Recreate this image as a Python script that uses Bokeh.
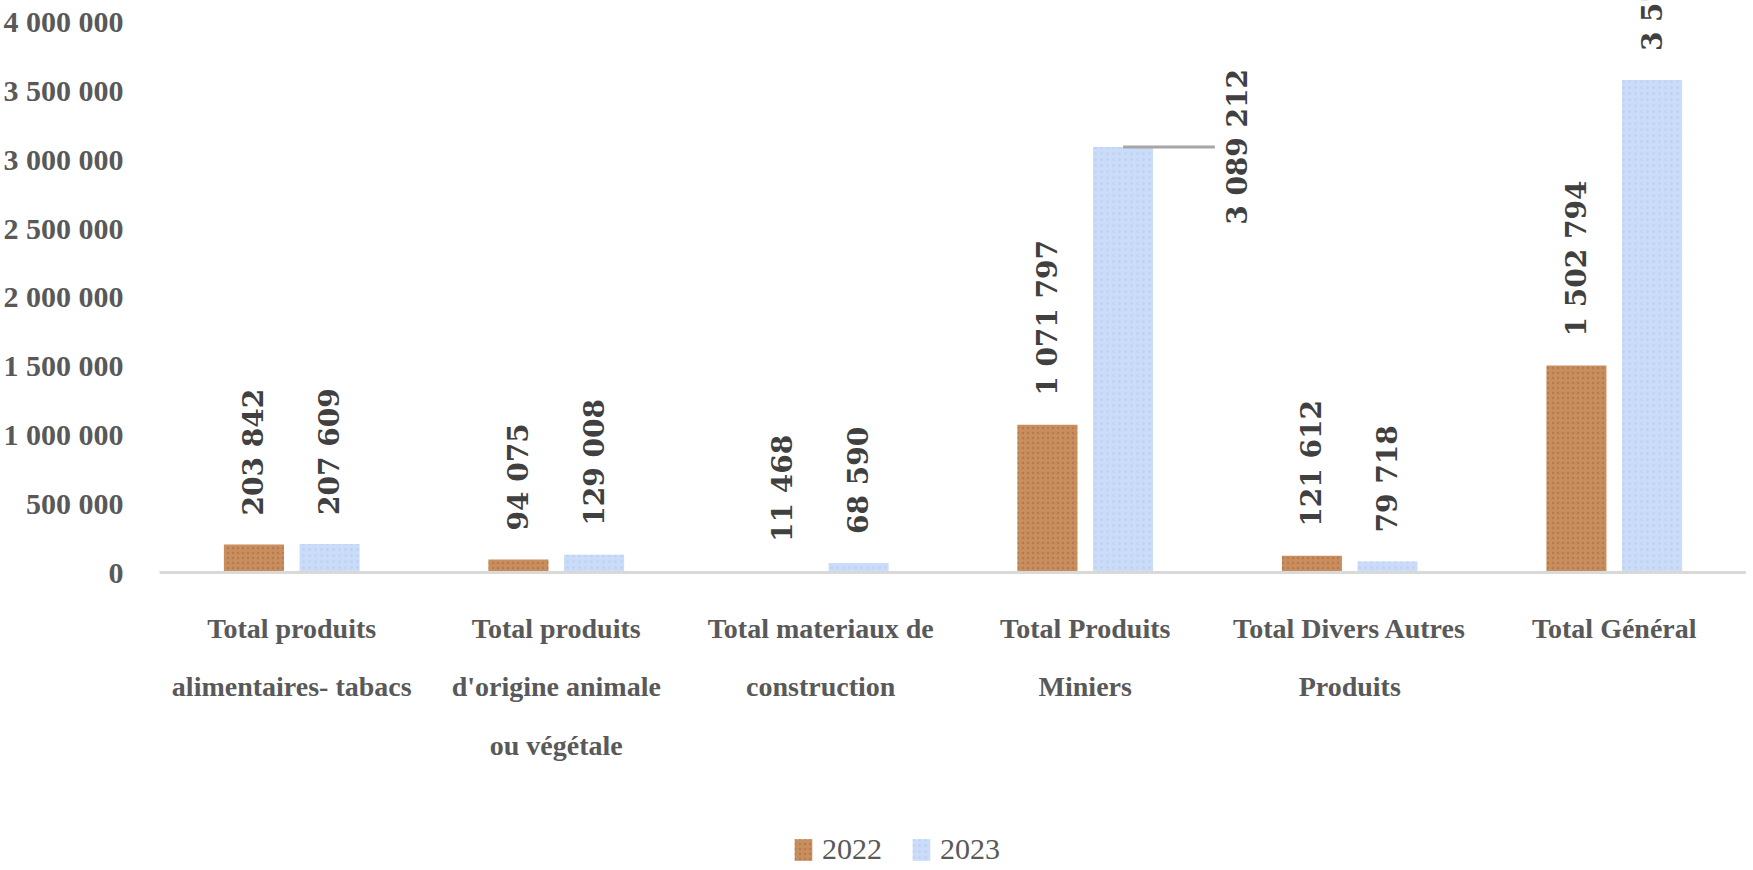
import math
from bokeh.plotting import figure
from bokeh.layouts import column
from bokeh.models import (ColumnDataSource, FactorRange, Range1d, FixedTicker,
                          Legend, LegendItem)
from bokeh.transform import dodge
from bokeh.core.properties import value
from bokeh.embed import file_html
from bokeh.resources import INLINE

categories = [
    "Total produits\nalimentaires- tabacs",
    "Total produits\nd'origine animale\nou végétale",
    "Total materiaux de\nconstruction",
    "Total Produits\nMiniers",
    "Total Divers Autres\nProduits",
    "Total Général",
]
values_2022 = [203842, 94075, 11468, 1071797, 121612, 1502794]
values_2023 = [207609, 129008, 68590, 3089212, 79718, 3574137]
series_names = ["2022", "2023"]
y_ticks = [0, 500000, 1000000, 1500000, 2000000, 2500000, 3000000, 3500000, 4000000]


def fmt(v):
    return f"{v:,}".replace(",", " ")


FONT = "Liberation Serif"
LBL_FONT = "DejaVu Serif"
GRAY = "#595959"
DARK = "#404040"
BROWN = "#C98E5E"
BLUE = "#CADCF8"
BAR22 = dict(fill_color=BROWN, line_color=None,
             hatch_pattern="dot", hatch_color="#8E5A30", hatch_alpha=0.35, hatch_scale=5)
BAR23 = dict(fill_color=BLUE, line_color=None,
             hatch_pattern="dot", hatch_color="#B3C6F2", hatch_alpha=0.5, hatch_scale=6)

p = figure(
    frame_width=1587, frame_height=572,
    x_range=FactorRange(*categories, range_padding=0),
    y_range=Range1d(0, 4152000),
    output_backend="svg", toolbar_location=None,
    min_border_left=0, min_border_right=0, min_border_top=0, min_border_bottom=250,
)
p.outline_line_color = None
p.grid.grid_line_color = None
p.x_range.factor_padding = 0

src = ColumnDataSource(dict(
    cat=categories, v22=values_2022, v23=values_2023,
    l22=[fmt(v) for v in values_2022], l23=[fmt(v) for v in values_2023],
))

p.vbar(x=dodge("cat", -0.143, range=p.x_range), top="v22", width=0.227, source=src, **BAR22)
p.vbar(x=dodge("cat", 0.143, range=p.x_range), top="v23", width=0.227, source=src, **BAR23)

# value labels 2022
p.text(x=dodge("cat", -0.143, range=p.x_range), y="v22", text="l22", source=src,
       angle=math.pi / 2, text_align="left", text_baseline="middle", y_offset=-29,
       text_font=value(LBL_FONT), text_font_style="bold", text_font_size="28px",
       text_color=DARK)

# value labels 2023 (Miniers label moved aside with a leader line)
idx_side = 3
main = [i for i in range(len(categories)) if i != idx_side]
src23 = ColumnDataSource(dict(
    cat=[categories[i] for i in main],
    v=[values_2023[i] for i in main],
    t=[fmt(values_2023[i]) for i in main],
))
p.text(x=dodge("cat", 0.143, range=p.x_range), y="v", text="t", source=src23,
       angle=math.pi / 2, text_align="left", text_baseline="middle", y_offset=-29,
       text_font=value(LBL_FONT), text_font_style="bold", text_font_size="28px",
       text_color=DARK)

side = ColumnDataSource(dict(
    cat=[categories[idx_side]], v=[values_2023[idx_side]], t=[fmt(values_2023[idx_side])],
))
p.segment(x0=dodge("cat", 0.143, range=p.x_range), y0="v",
          x1=dodge("cat", 0.49, range=p.x_range), y1="v", source=side,
          line_color="#A6A6A6", line_width=3)
p.text(x=dodge("cat", 0.575, range=p.x_range), y="v", text="t", source=side,
       angle=math.pi / 2, text_align="center", text_baseline="middle",
       text_font=value(LBL_FONT), text_font_style="bold", text_font_size="28px",
       text_color=DARK)

# y axis
p.yaxis.ticker = FixedTicker(ticks=y_ticks)
p.yaxis.major_label_overrides = {t: fmt(t) for t in y_ticks}
p.yaxis.axis_line_color = None
p.yaxis.major_tick_line_color = None
p.yaxis.minor_tick_line_color = None
p.yaxis.major_tick_in = 0
p.yaxis.major_tick_out = 0
p.yaxis.major_label_standoff = 36
p.yaxis.major_label_text_font = FONT
p.yaxis.major_label_text_font_style = "bold"
p.yaxis.major_label_text_font_size = "30px"
p.yaxis.major_label_text_color = GRAY

# x axis
p.xaxis.axis_line_color = "#D9D9D9"
p.xaxis.axis_line_width = 3
p.xaxis.major_tick_line_color = None
p.xaxis.minor_tick_line_color = None
p.xaxis.major_tick_in = 0
p.xaxis.major_tick_out = 0
p.xaxis.major_label_standoff = 40
p.xaxis.major_label_text_font = FONT
p.xaxis.major_label_text_font_style = "bold"
p.xaxis.major_label_text_font_size = "28px"
p.xaxis.major_label_text_color = GRAY
p.xaxis.major_label_text_line_height = 1.9

# legend strip below the chart (its swatch renderers sit outside the visible range)
lg = figure(
    width=1740, height=48, x_range=Range1d(0, 1), y_range=Range1d(0, 1),
    x_axis_type=None, y_axis_type=None,
    output_backend="svg", toolbar_location=None,
    min_border=0,
)
lg.outline_line_color = None
lg.grid.grid_line_color = None
swatch = ColumnDataSource(dict(x=[5], top=[1]))
g22 = lg.vbar(x="x", top="top", width=0.1, source=swatch, **BAR22)
g23 = lg.vbar(x="x", top="top", width=0.1, source=swatch, **BAR23)
legend = Legend(
    items=[LegendItem(label=series_names[0], renderers=[g22]),
           LegendItem(label=series_names[1], renderers=[g23])],
    orientation="horizontal", location=(633, 4),
    label_text_font=FONT, label_text_font_size="30px", label_text_color=GRAY,
    label_standoff=8, label_height=30,
    glyph_width=22, glyph_height=27, spacing=28, padding=0, margin=0,
    border_line_color=None, background_fill_alpha=0,
)
lg.add_layout(legend, "center")

layout = column(p, lg, spacing=0)
open("out.html", "w").write(file_html(layout, INLINE))
